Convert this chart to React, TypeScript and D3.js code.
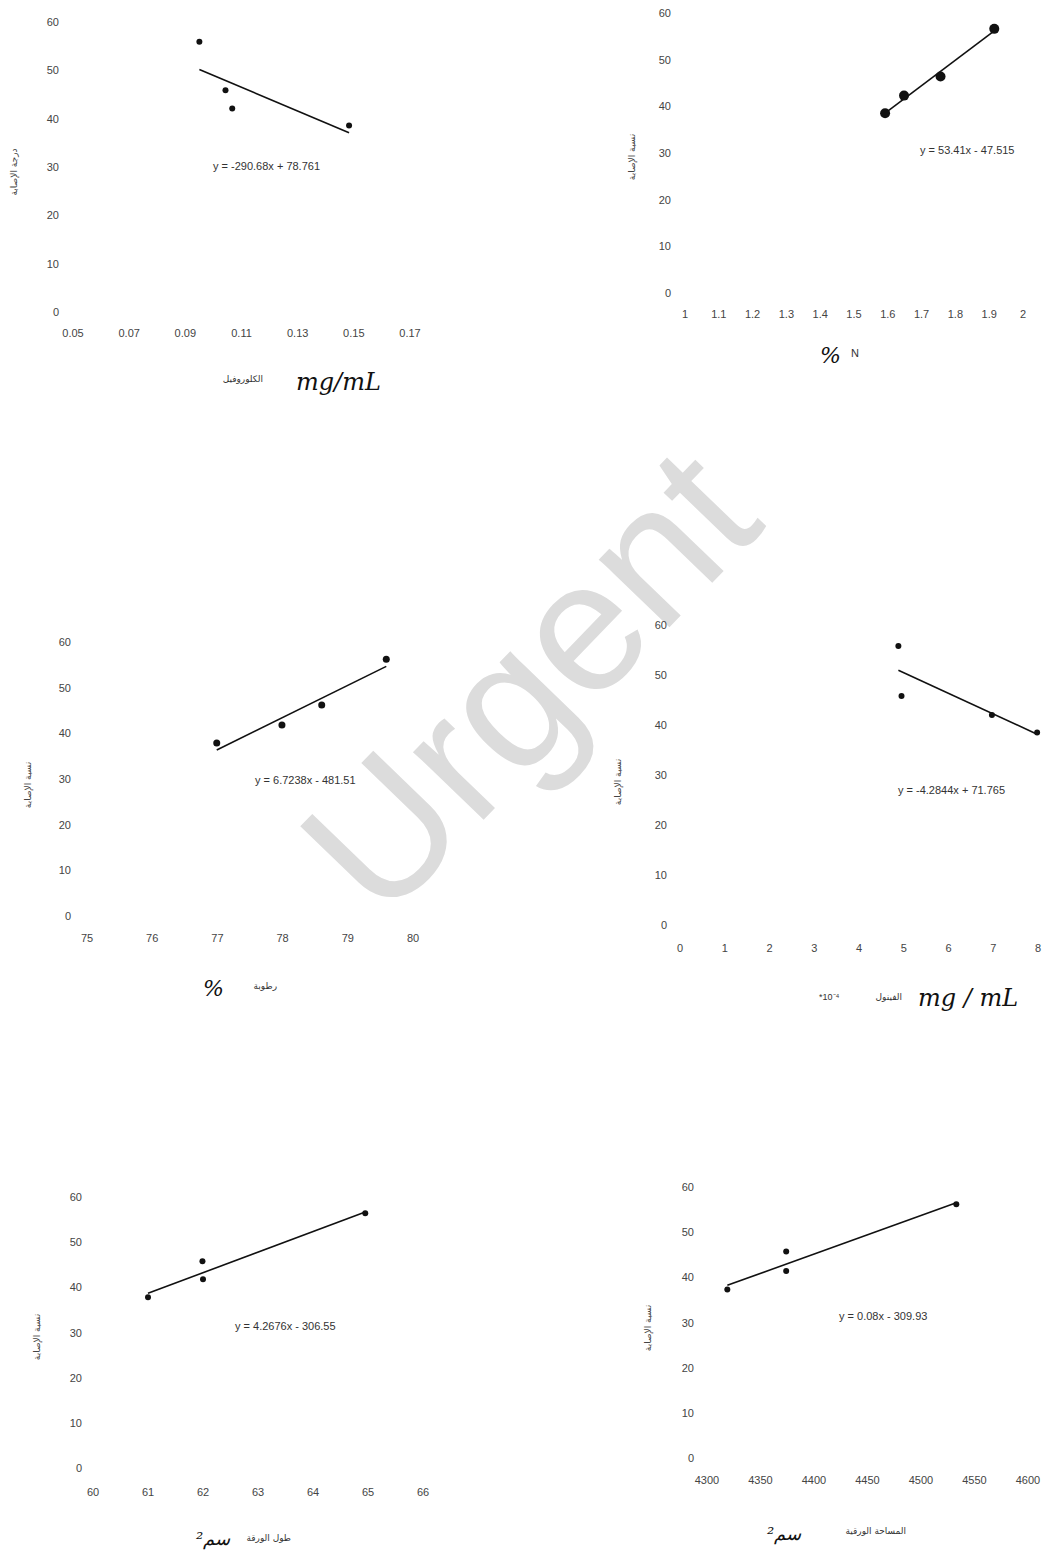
import React from "react";
import * as d3 from "d3";

// ---------------- DATA ----------------
const yTicks = [0, 10, 20, 30, 40, 50, 60];

// Panel 1 – chlorophyll (mg/mL)
const p1X = [0.095, 0.1043, 0.1067, 0.1483];
const p1Y = [55.9, 45.9, 42.1, 38.6];
const p1XTicks = [0.05, 0.07, 0.09, 0.11, 0.13, 0.15, 0.17];
const p1Eq = "y = -290.68x + 78.761";

// Panel 2 – N %
const p2X = [1.592, 1.648, 1.756, 1.915];
const p2Y = [38.5, 42.3, 46.4, 56.6];
const p2XTicks = [1, 1.1, 1.2, 1.3, 1.4, 1.5, 1.6, 1.7, 1.8, 1.9, 2];
const p2Eq = "y = 53.41x - 47.515";

// Panel 3 – moisture %
const p3X = [76.99, 77.99, 78.6, 79.59];
const p3Y = [37.9, 41.8, 46.2, 56.2];
const p3XTicks = [75, 76, 77, 78, 79, 80];
const p3Eq = "y = 6.7238x - 481.51";

// Panel 4 – phenol *10^-4 mg/mL
const p4X = [4.88, 4.95, 6.97, 7.98];
const p4Y = [55.8, 45.8, 42.0, 38.5];
const p4XTicks = [0, 1, 2, 3, 4, 5, 6, 7, 8];
const p4Eq = "y = -4.2844x + 71.765";

// Panel 5 – leaf length
const p5X = [61.0, 61.99, 62.0, 64.95];
const p5Y = [37.8, 45.8, 41.8, 56.4];
const p5XTicks = [60, 61, 62, 63, 64, 65, 66];
const p5Eq = "y = 4.2676x - 306.55";

// Panel 6 – leaf area
const p6X = [4319, 4374, 4374, 4533];
const p6Y = [37.3, 45.7, 41.4, 56.2];
const p6XTicks = [4300, 4350, 4400, 4450, 4500, 4550, 4600];
const p6Eq = "y = 0.08x - 309.93";

const yTitleA = "درجة الإصابة";
const yTitleB = "نسبة الإصابة";

// ---------------- HELPERS ----------------
function fit(xs: number[], ys: number[]) {
  const mx = d3.mean(xs)!;
  const my = d3.mean(ys)!;
  let sxy = 0, sxx = 0;
  xs.forEach((x, i) => {
    sxy += (x - mx) * (ys[i] - my);
    sxx += (x - mx) * (x - mx);
  });
  const b = sxy / sxx;
  const a = my - b * mx;
  return (x: number) => a + b * x;
}

const tickFont = "'Liberation Sans', Arial, sans-serif";
const handFont = "'DejaVu Serif', serif";

type PanelProps = {
  xs: number[];
  ys: number[];
  xTicks: number[];
  xDomain: [number, number];
  xRange: [number, number];
  yRange: [number, number];
  xLabelY: number;
  yLabelX: number;
  eq: string;
  eqX: number;
  eqY: number;
  r: number;
  fmt: (n: number) => string;
  yTitle: string;
  yTitleX: number;
  yTitleY: number;
};

function Panel(p: PanelProps) {
  const x = d3.scaleLinear().domain(p.xDomain).range(p.xRange);
  const y = d3.scaleLinear().domain([0, 60]).range(p.yRange);
  const f = fit(p.xs, p.ys);
  const x0 = d3.min(p.xs)!;
  const x1 = d3.max(p.xs)!;
  const line = d3.line<number>().x((d) => x(d)).y((d) => y(f(d)));
  return (
    <g>
      {yTicks.map((t) => (
        <text key={"y" + t} x={p.yLabelX} y={y(t) + 4} textAnchor="end"
          fontSize={11} fill="#444" fontFamily={tickFont}>{t}</text>
      ))}
      {p.xTicks.map((t) => (
        <text key={"x" + t} x={x(t)} y={p.xLabelY} textAnchor="middle"
          fontSize={11} fill="#444" fontFamily={tickFont}>{p.fmt(t)}</text>
      ))}
      <path d={line([x0, x1]) || ""} stroke="#111" strokeWidth={1.6} fill="none" />
      {p.xs.map((d, i) => (
        <circle key={i} cx={x(d)} cy={y(p.ys[i])} r={p.r} fill="#111" />
      ))}
      <text x={p.eqX} y={p.eqY} fontSize={11} fill="#333" fontFamily={tickFont}>{p.eq}</text>
      <text transform={`translate(${p.yTitleX},${p.yTitleY}) rotate(-90)`} textAnchor="middle"
        fontSize={9} fill="#444" fontFamily="'DejaVu Sans', sans-serif" direction="rtl">{p.yTitle}</text>
    </g>
  );
}

export default function App() {
  const f2 = d3.format(".2f");
  const fg = (n: number) => String(n);
  return (
    <svg width={1043} height={1555} style={{ position: "absolute", left: 0, top: 0, background: "#fff" }}
      fontFamily={tickFont}>
      <rect width={1043} height={1555} fill="#fff" />
      {/* watermark */}
      <text transform="translate(382,925) rotate(-46)" fontSize={185} fill="#dcdcdc"
        fontFamily="'Liberation Sans', Arial, sans-serif">Urgent</text>

      <Panel xs={p1X} ys={p1Y} xTicks={p1XTicks} xDomain={[0.05, 0.17]} xRange={[73, 410]}
        yRange={[312, 22]} xLabelY={337} yLabelX={59} eq={p1Eq} eqX={213} eqY={170} r={3}
        fmt={f2} yTitle={yTitleA} yTitleX={17} yTitleY={172} />
      <Panel xs={p2X} ys={p2Y} xTicks={p2XTicks} xDomain={[1, 2]} xRange={[685, 1023]}
        yRange={[293, 13]} xLabelY={318} yLabelX={671} eq={p2Eq} eqX={920} eqY={154} r={5}
        fmt={fg} yTitle={yTitleB} yTitleX={635} yTitleY={157} />
      <Panel xs={p3X} ys={p3Y} xTicks={p3XTicks} xDomain={[75, 80]} xRange={[87, 413]}
        yRange={[916, 642]} xLabelY={942} yLabelX={71} eq={p3Eq} eqX={255} eqY={784} r={3.5}
        fmt={fg} yTitle={yTitleB} yTitleX={31} yTitleY={785} />
      <Panel xs={p4X} ys={p4Y} xTicks={p4XTicks} xDomain={[0, 8]} xRange={[680, 1038]}
        yRange={[925, 625]} xLabelY={952} yLabelX={667} eq={p4Eq} eqX={898} eqY={794} r={3}
        fmt={fg} yTitle={yTitleB} yTitleX={621} yTitleY={782} />
      <Panel xs={p5X} ys={p5Y} xTicks={p5XTicks} xDomain={[60, 66]} xRange={[93, 423]}
        yRange={[1468, 1197]} xLabelY={1496} yLabelX={82} eq={p5Eq} eqX={235} eqY={1330} r={3}
        fmt={fg} yTitle={yTitleB} yTitleX={40} yTitleY={1337} />
      <Panel xs={p6X} ys={p6Y} xTicks={p6XTicks} xDomain={[4300, 4600]} xRange={[707, 1028]}
        yRange={[1458, 1187]} xLabelY={1484} yLabelX={694} eq={p6Eq} eqX={839} eqY={1320} r={3}
        fmt={fg} yTitle={yTitleB} yTitleX={651} yTitleY={1328} />

      {/* x-axis titles */}
      <text x={263} y={382} textAnchor="end" fontSize={9} fill="#333" fontFamily="'DejaVu Sans', sans-serif">الكلوروفيل</text>
      <text x={296} y={390} fontSize={24} fontStyle="italic" fill="#111" fontFamily={handFont}>mg/mL</text>

      <text x={820} y={363} fontSize={22} fontStyle="italic" fill="#111" fontFamily={handFont}>%</text>
      <text x={851} y={357} fontSize={11} fill="#333" fontFamily={tickFont}>N</text>

      <text x={203} y={996} fontSize={22} fontStyle="italic" fill="#111" fontFamily={handFont}>%</text>
      <text x={277} y={989} textAnchor="end" fontSize={9} fill="#333" fontFamily="'DejaVu Sans', sans-serif">رطوبة</text>

      <text x={819} y={1000} fontSize={9} fill="#333" fontFamily={tickFont}>*10⁻⁴</text>
      <text x={902} y={1000} textAnchor="end" fontSize={9} fill="#333" fontFamily="'DejaVu Sans', sans-serif">الفينول</text>
      <text x={918} y={1006} fontSize={24} fontStyle="italic" fill="#111" fontFamily={handFont}>mg / mL</text>

      <text x={196} y={1545} fontSize={18} fontStyle="italic" fill="#111" fontFamily={handFont}>سم²</text>
      <text x={291} y={1541} textAnchor="end" fontSize={9} fill="#333" fontFamily="'DejaVu Sans', sans-serif">طول الورقة</text>

      <text x={767} y={1540} fontSize={18} fontStyle="italic" fill="#111" fontFamily={handFont}>سم²</text>
      <text x={906} y={1534} textAnchor="end" fontSize={9} fill="#333" fontFamily="'DejaVu Sans', sans-serif">المساحة الورقية</text>
    </svg>
  );
}
